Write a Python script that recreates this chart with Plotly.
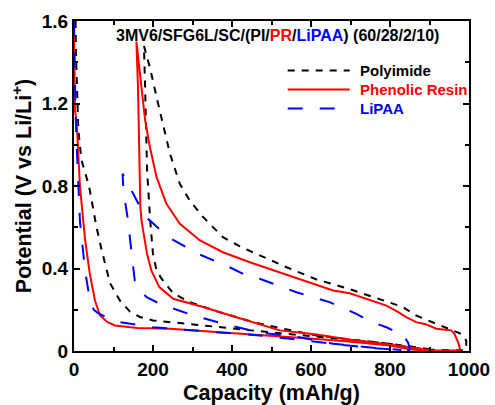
import plotly.graph_objects as go

# Capacity (mAh/g) and potential (V) for each binder: first lithiation,
# first delithiation (traced back toward the irreversible capacity), second lithiation.
pi_cap = [4, 5, 11, 19, 38, 57, 70, 91, 116, 142, 167, 200, 285, 369, 453, 521, 614, 689, 799, 858, 900, 990,
          993, 993, 985, 980, 959, 951, 921, 908, 866, 833, 782, 698, 614, 538, 462, 420, 377, 323, 293, 268, 243, 222, 211, 192, 177,
          180, 185, 193, 200, 209, 222, 251, 293, 369, 453, 512, 614, 799, 866, 917]
pi_volt = [1.60, 1.44, 1.07, 0.925, 0.80, 0.60, 0.49, 0.33, 0.245, 0.19, 0.165, 0.148, 0.132, 0.115, 0.10, 0.086, 0.07, 0.055, 0.035, 0.015, 0.006, 0.003,
           0.02, 0.05, 0.075, 0.083, 0.10, 0.103, 0.129, 0.14, 0.172, 0.213, 0.245, 0.30, 0.347, 0.406, 0.471, 0.507, 0.552, 0.657, 0.73, 0.81, 0.956, 1.12, 1.215, 1.376, 1.48,
           1.28, 0.876, 0.63, 0.47, 0.39, 0.35, 0.28, 0.237, 0.188, 0.14, 0.115, 0.075, 0.035, 0.018, 0.005]

pr_cap = [0, 1, 2.5, 7, 15, 28, 40, 53, 66, 85, 104, 160, 243, 369, 496, 614, 689, 799, 850, 880, 975,
          977, 973, 967, 963, 955, 942, 917, 890, 866, 841, 820, 791, 698, 656, 554, 504, 445, 377, 319, 268, 234, 209, 192, 180, 170, 158,
          162, 168, 171, 185, 196, 216, 251, 327, 411, 479, 521, 614, 700, 782, 850, 900]
pr_volt = [1.56, 1.35, 1.17, 1.10, 0.80, 0.54, 0.375, 0.245, 0.172, 0.14, 0.124, 0.112, 0.108, 0.091, 0.075, 0.058, 0.047, 0.027, 0.008, 0.003, 0.002,
           0.01, 0.04, 0.067, 0.083, 0.10, 0.103, 0.108, 0.13, 0.14, 0.164, 0.19, 0.22, 0.28, 0.293, 0.358, 0.39, 0.43, 0.479, 0.536, 0.617, 0.714, 0.843, 0.99, 1.12, 1.30, 1.50,
           1.28, 0.70, 0.63, 0.47, 0.39, 0.31, 0.253, 0.213, 0.164, 0.124, 0.10, 0.08, 0.055, 0.035, 0.018, 0.005]

lipaa_cap = [0, 2, 4, 7, 15, 28, 40, 50, 60, 90, 116, 200, 302, 394, 470, 571, 660, 748, 834, 848,
             850, 846, 829, 807, 791, 740, 730, 715, 647, 563, 470, 445, 394, 314, 239, 188, 167, 142, 125,
             123, 125, 137, 146, 154, 167, 185, 217, 302, 394, 470, 571, 656, 744, 829]
lipaa_volt = [1.60, 1.35, 1.15, 0.99, 0.63, 0.39, 0.25, 0.20, 0.185, 0.155, 0.14, 0.115, 0.10, 0.083, 0.075, 0.054, 0.035, 0.015, 0.005, 0.002,
              0.01, 0.04, 0.09, 0.10, 0.115, 0.151, 0.164, 0.18, 0.237, 0.285, 0.35, 0.358, 0.406, 0.471, 0.552, 0.64, 0.70, 0.795, 0.86,
              0.86, 0.78, 0.63, 0.47, 0.34, 0.29, 0.26, 0.229, 0.172, 0.124, 0.09, 0.067, 0.035, 0.018, 0.005]

series_names = ["Polyimide", "Phenolic Resin", "LiPAA"]
series_colors = ["#000000", "#ff0000", "#0000ff"]
series_dash = ["7px,7px", "solid", "15px,17px"]

x_ticks = [0, 200, 400, 600, 800, 1000]
y_ticks = [0, 0.4, 0.8, 1.2, 1.6]
y_tick_text = ["0", "0.4", "0.8", "1.2", "1.6"]

FONT = "Arial, Liberation Sans, Helvetica, sans-serif"

fig = go.Figure()
for cap, volt, name, color, dash in zip([pi_cap, pr_cap, lipaa_cap], [pi_volt, pr_volt, lipaa_volt],
                                        series_names, series_colors, series_dash):
    fig.add_trace(go.Scatter(x=cap, y=volt, mode="lines", name=name, showlegend=False,
                             line=dict(color=color, width=2, dash=dash)))

# Legend drawn in data space: sample line plus coloured label
legend_x0, legend_x1, legend_tx = 541, 698, 718
legend_y = [1.36, 1.268, 1.176]
for name, color, dash, ly in zip(series_names, series_colors, series_dash, legend_y):
    fig.add_shape(type="line", x0=legend_x0, x1=legend_x1, y0=ly, y1=ly, xref="x", yref="y",
                  line=dict(color=color, width=2, dash=dash))
    fig.add_annotation(x=legend_tx, y=ly, xref="x", yref="y", text=f"<b>{name}</b>", showarrow=False,
                       xanchor="left", yanchor="middle", font=dict(family=FONT, size=15, color=color))

fig.add_annotation(x=516, y=1.53, xref="x", yref="y", showarrow=False, xanchor="center", yanchor="middle",
                   text="<b>3MV6/SFG6L/SC/(PI/<span style='color:#ff0000'>PR</span>/"
                        "<span style='color:#0000ff'>LiPAA</span>) (60/28/2/10)</b>",
                   font=dict(family=FONT, size=16, color="#000000"))

axis_common = dict(showline=True, linewidth=2, linecolor="#000000", mirror="ticks", ticks="inside",
                   ticklen=6, tickwidth=1.5, tickcolor="#000000", showgrid=False, zeroline=False,
                   automargin=False,
                   tickfont=dict(family=FONT, size=19, color="#000000", weight="bold"),
                   minor=dict(ticks="inside", ticklen=4, tickwidth=1.5, tickcolor="#000000", showgrid=False))

fig.update_xaxes(range=[0, 1000], tickvals=x_ticks, minor_dtick=100,
                 title=dict(text="<b>Capacity (mAh/g)</b>", font=dict(family=FONT, size=21.5, color="#000000"),
                            standoff=8),
                 **axis_common)
fig.update_yaxes(range=[0, 1.6], tickvals=y_ticks, ticktext=y_tick_text, minor_dtick=0.2,
                 title=dict(text="<b>Potential (V vs Li/Li<sup>+</sup>)</b>",
                            font=dict(family=FONT, size=21.5, color="#000000"), standoff=4),
                 **axis_common)

fig.update_layout(width=495, height=405, margin=dict(l=74, r=26, t=21, b=54, autoexpand=False),
                  paper_bgcolor="#ffffff", plot_bgcolor="#ffffff", showlegend=False,
                  font=dict(family=FONT, color="#000000"))

fig.write_html("out.html")
